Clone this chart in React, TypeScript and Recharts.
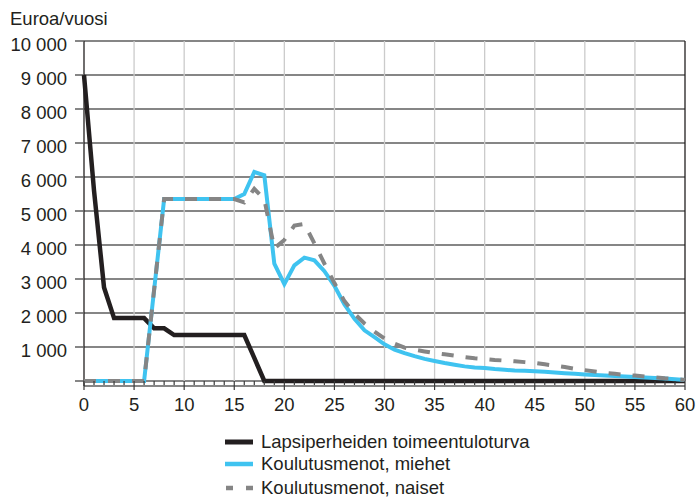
import { CartesianGrid, Legend, Line, LineChart, ReferenceLine, XAxis, YAxis } from "recharts";

const years = [
  0, 1, 2, 3, 4, 5, 6, 7, 8, 9, 10, 11, 12, 13, 14, 15, 16, 17, 18, 19, 20,
  21, 22, 23, 24, 25, 26, 27, 28, 29, 30, 31, 32, 33, 34, 35, 36, 37, 38, 39, 40,
  41, 42, 43, 44, 45, 46, 47, 48, 49, 50, 51, 52, 53, 54, 55, 56, 57, 58, 59, 60,
];

// Lapsiperheiden toimeentuloturva
const toimeentuloturva = [
  9000, 5600, 2750, 1850, 1850, 1850, 1850, 1550, 1550, 1350, 1350, 1350, 1350, 1350, 1350, 1350, 1350, 680,
  0, 0, 0, 0, 0, 0, 0, 0, 0, 0, 0, 0, 0, 0, 0, 0, 0, 0, 0, 0, 0, 0, 0, 0, 0,
  0, 0, 0, 0, 0, 0, 0, 0, 0, 0, 0, 0, 0, 0, 0, 0, 0, 0,
];

// Koulutusmenot, miehet
const miehet = [
  0, 0, 0, 0, 0, 0, 0, 2680, 5350, 5350, 5350, 5350, 5350, 5350, 5350, 5350,
  5500, 6150, 6050, 3450, 2850, 3400, 3630, 3550, 3230, 2800,
  2250, 1830, 1490, 1290, 1080, 920, 820, 730, 650, 590,
  530, 480, 430, 400, 380, 350, 330, 310, 300, 290,
  270, 250, 230, 210, 190, 175, 160, 145, 130, 120,
  100, 85, 70, 50, 30,
];

// Koulutusmenot, naiset
const naiset = [
  0, 0, 0, 0, 0, 0, 0, 2680, 5350, 5350, 5350, 5350, 5350, 5350, 5350, 5350,
  5250, 5650, 5350, 3900, 4150, 4570, 4620, 4050, 3450, 2880,
  2350, 1980, 1690, 1450, 1250, 1100, 980, 920, 870, 820,
  785, 745, 705, 670, 650, 620, 600, 580, 555, 530,
  490, 450, 410, 360, 320, 280, 240, 210, 180, 160,
  130, 110, 80, 60, 30,
];

const yTicks = [0, 1000, 2000, 3000, 4000, 5000, 6000, 7000, 8000, 9000, 10000];
const fiveYearLines = [5, 10, 15, 20, 25, 30, 35, 40, 45, 50, 55];

const seriesNames = [
  "Lapsiperheiden toimeentuloturva",
  "Koulutusmenot, miehet",
  "Koulutusmenot, naiset",
];

const data = years.map((year, i) => ({
  year,
  turva: toimeentuloturva[i],
  miehet: miehet[i],
  naiset: naiset[i],
}));

const FONT = "'Liberation Sans', Arial, sans-serif";
const TEXT = "#231f20";
const BLACK = "#231f20";
const BLUE = "#3fc3f0";
const GRAY = "#858585";
const GRID_DARK = "#5e5e5e";
const GRID_LIGHT = "#cbcbcb";

// a little room below zero so the thick lines lying on the axis are not cut off
const Y_MIN = -150;
const PX_PER_UNIT = 340 / 10000;
const BELOW = -Y_MIN * PX_PER_UNIT;

function formatThousands(v: number): string {
  return String(v).replace(/\B(?=(\d{3})+(?!\d))/g, " ");
}

function XTick(props: any) {
  const { x, y, payload } = props;
  const major = payload.value % 5 === 0;
  const y0 = y - BELOW;
  return (
    <g>
      <line x1={x} x2={x} y1={y0} y2={y0 + (major ? 9 : 4)} stroke="#3a3a3a" strokeWidth={1.2} />
      {major && (
        <text x={x} y={y0 + 30} textAnchor="middle" fontSize={18.5} fontFamily={FONT} fill={TEXT}>
          {payload.value}
        </text>
      )}
    </g>
  );
}

function LegendContent() {
  const rows = [
    { name: seriesNames[0], top: 441.5 - 428 },
    { name: seriesNames[1], top: 464 - 428 },
    { name: seriesNames[2], top: 488 - 428 },
  ];
  return (
    <div style={{ position: "relative", width: 697, height: 72 }}>
      {rows.map((r, i) => (
        <div
          key={r.name}
          style={{
            position: "absolute",
            left: 225,
            top: r.top - 11,
            height: 22,
            display: "flex",
            alignItems: "center",
            fontFamily: FONT,
            fontSize: 18.5,
            color: TEXT,
            whiteSpace: "nowrap",
          }}
        >
          <svg width={28} height={8} style={{ marginRight: 8 }}>
            {i === 0 && <line x1={0} x2={28} y1={4} y2={4} stroke={BLACK} strokeWidth={5} />}
            {i === 1 && <line x1={0} x2={28} y1={4} y2={4} stroke={BLUE} strokeWidth={4.5} />}
            {i === 2 && (
              <line x1={1} x2={28} y1={4} y2={4} stroke={GRAY} strokeWidth={4.5} strokeDasharray="7 13" />
            )}
          </svg>
          {r.name}
        </div>
      ))}
    </div>
  );
}

export default function App() {
  return (
    <div style={{ position: "absolute", left: 0, top: 0, width: 697, height: 500, background: "#fff" }}>
      <LineChart width={697} height={500} data={data} margin={{ top: 41, right: 12, left: 0, bottom: 0 }}>
        {fiveYearLines.map((x) => (
          <ReferenceLine
            key={x}
            segment={[{ x, y: 0 }, { x, y: 10000 }]}
            stroke={GRID_LIGHT}
            strokeWidth={1.3}
          />
        ))}
        <CartesianGrid vertical={false} stroke={GRID_DARK} strokeWidth={1.5} />
        <ReferenceLine segment={[{ x: 60, y: 0 }, { x: 60, y: 10000 }]} stroke={BLACK} strokeWidth={1.3} />
        <XAxis
          dataKey="year"
          type="number"
          domain={[0, 60]}
          ticks={years}
          interval={0}
          tickSize={0}
          tickMargin={0}
          tick={<XTick />}
          tickLine={false}
          axisLine={false}
          height={47 - BELOW}
        />
        <YAxis
          domain={[Y_MIN, 10000]}
          ticks={yTicks}
          interval={0}
          width={84}
          tickSize={9}
          tickMargin={8}
          tickLine={{ stroke: GRID_DARK, strokeWidth: 1.5 }}
          axisLine={{ stroke: BLACK, strokeWidth: 1.3 }}
          tickFormatter={(v: number) => (v === 0 ? "" : formatThousands(v))}
          tick={{ fontSize: 18.5, fontFamily: FONT, fill: TEXT, dy: 3 }}
        />
        <Legend
          verticalAlign="bottom"
          content={<LegendContent />}
          wrapperStyle={{ left: 0, bottom: 0, width: 697, height: 72 }}
        />
        <Line
          type="linear"
          dataKey="turva"
          name={seriesNames[0]}
          stroke={BLACK}
          strokeWidth={4.5}
          dot={false}
          activeDot={false}
          isAnimationActive={false}
          zIndex={600}
        />
        <Line
          type="linear"
          dataKey="miehet"
          name={seriesNames[1]}
          stroke={BLUE}
          strokeWidth={4}
          dot={false}
          activeDot={false}
          isAnimationActive={false}
          zIndex={601}
        />
        <Line
          type="linear"
          dataKey="naiset"
          name={seriesNames[2]}
          stroke={GRAY}
          strokeWidth={4}
          strokeDasharray="12 12"
          dot={false}
          activeDot={false}
          isAnimationActive={false}
          zIndex={602}
        />
        <text x={10} y={25} fontSize={18.5} fontFamily={FONT} fill={TEXT}>
          Euroa/vuosi
        </text>
      </LineChart>
    </div>
  );
}
